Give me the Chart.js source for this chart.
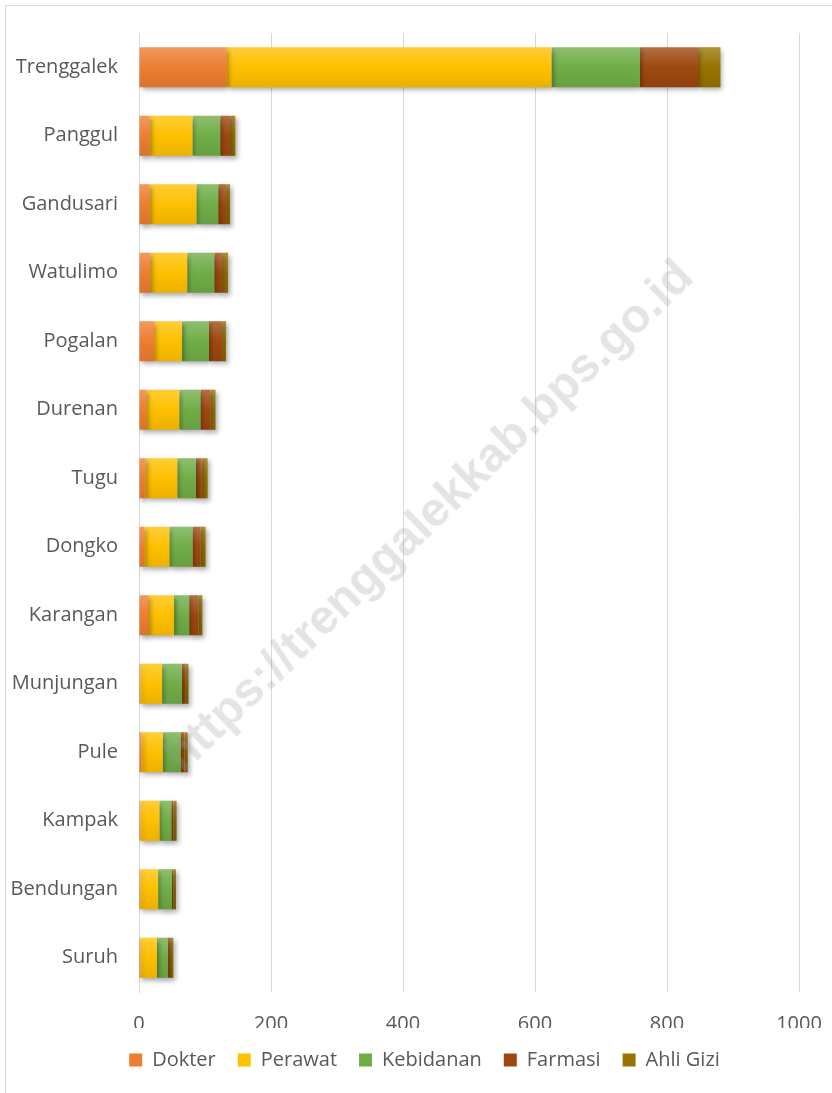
<!DOCTYPE html>
<html><head><meta charset="utf-8">
<script src="https://cdn.jsdelivr.net/npm/chart.js@4/dist/chart.umd.min.js"></script>
<style>
html,body{margin:0;padding:0;background:#fff;}
#wrap{position:relative;width:832px;height:1093px;overflow:hidden;background:#fff;}
#frame{position:absolute;left:5px;top:5px;width:840px;height:1100px;border:1px solid #d9d9d9;box-sizing:border-box;}
canvas{position:absolute;left:0;top:0;}
#wm{position:absolute;left:428px;top:515px;transform:translate(-50%,-50%) rotate(-44deg);font:bold 48px "Liberation Sans",Arial,sans-serif;color:rgba(150,150,150,0.26);white-space:nowrap;pointer-events:none;}
</style></head>
<body><div id="wrap"><div id="frame"></div><canvas id="c" width="832" height="1093"></canvas><div id="wm">https://trenggalekkab.bps.go.id</div></div>
<script>
const categories = ["Trenggalek","Panggul","Gandusari","Watulimo","Pogalan","Durenan","Tugu","Dongko","Karangan","Munjungan","Pule","Kampak","Bendungan","Suruh"];
const dokter    = [133, 16, 16, 17, 23, 11, 10,  8, 14,  2,  4,  2,  2,  2];
const perawat   = [492, 65, 71, 56, 42, 50, 48, 38, 39, 33, 32, 29, 27, 25];
const kebidanan = [134, 42, 33, 41, 41, 32, 28, 35, 23, 30, 27, 18, 21, 17];
const farmasi   = [ 88, 15, 12, 12, 20, 15,  9, 12, 14,  5,  6,  3,  2,  3];
const ahliGizi  = [ 34,  8,  6,  9,  6,  8,  9,  8,  6,  5,  5,  5,  4,  5];
const xTicks = [0, 200, 400, 600, 800, 1000];

const seriesNames = ["Dokter","Perawat","Kebidanan","Farmasi","Ahli Gizi"];
const seriesColors = ["#ED7D31","#FFC000","#70AD47","#9E480E","#997300"];
const seriesData = [dokter, perawat, kebidanan, farmasi, ahliGizi];

function mix(hex, t, target){
  const n = parseInt(hex.slice(1),16);
  let r=(n>>16)&255,g=(n>>8)&255,b=n&255;
  r=Math.round(r+(target-r)*t); g=Math.round(g+(target-g)*t); b=Math.round(b+(target-b)*t);
  return `rgb(${r},${g},${b})`;
}
const BAR_H = 40;
function gradFor(color){
  return function(ctx){
    const chart = ctx.chart;
    const ys = chart.scales && chart.scales.y;
    if (!ys || ctx.dataIndex === undefined) return color;
    const cy = ys.getPixelForValue(ctx.dataIndex);
    if (!isFinite(cy)) return color;
    const g = chart.ctx.createLinearGradient(0, cy - BAR_H/2, 0, cy + BAR_H/2);
    g.addColorStop(0, mix(color, 0.22, 255));
    g.addColorStop(0.5, color);
    g.addColorStop(1, mix(color, 0.08, 0));
    return g;
  };
}

const shadowPlugin = {
  id: 'shadow',
  beforeDatasetsDraw(chart){
    const c = chart.ctx; c.save();
    c.shadowColor = 'rgba(0,0,0,0.35)'; c.shadowBlur = 5; c.shadowOffsetX = 2; c.shadowOffsetY = 3;
  },
  afterDatasetsDraw(chart){ chart.ctx.restore(); }
};
const LEGEND_SHIFT = 25;
const legendFitPlugin = {
  id: 'legendFit',
  afterInit(chart){
    const lg = chart.legend;
    if (!lg) return;
    const origFit = lg.fit.bind(lg);
    lg.fit = function(){ origFit(); this.height = 60; };
    const origDraw = lg.draw.bind(lg);
    lg.draw = function(){
      this.left += LEGEND_SHIFT; this.right += LEGEND_SHIFT;
      origDraw();
      this.left -= LEGEND_SHIFT; this.right -= LEGEND_SHIFT;
    };
  }
};

const FONT = {family: '"Open Sans", sans-serif', size: 20};

new Chart(document.getElementById('c'), {
  type: 'bar',
  data: {
    labels: categories,
    datasets: seriesNames.map((name, i) => ({
      label: name,
      data: seriesData[i],
      backgroundColor: gradFor(seriesColors[i]),
      borderWidth: 0,
      barPercentage: 0.585,
      categoryPercentage: 1.0
    }))
  },
  options: {
    indexAxis: 'y',
    responsive: false,
    animation: false,
    devicePixelRatio: 1,
    layout: {padding: {top: 32, right: 33, left: 0, bottom: 5}},
    plugins: {
      tooltip: {enabled: false},
      legend: {
        position: 'bottom',
        labels: {
          font: FONT, color: '#595959', boxWidth: 13, boxHeight: 13, padding: 22,
          generateLabels(chart){
            return seriesNames.map((n, i) => ({text: n, fillStyle: seriesColors[i], strokeStyle: seriesColors[i], lineWidth: 0, datasetIndex: i, fontColor: '#595959'}));
          }
        }
      }
    },
    scales: {
      x: {
        stacked: true, min: 0, max: 1000,
        afterBuildTicks(s){ s.ticks = xTicks.map(v => ({value: v})); },
        afterFit(s){ s.height = 36; s.paddingLeft = 0; s.paddingRight = 0; },
        ticks: {font: FONT, color: '#595959', padding: 20, callback: v => String(v)},
        grid: {color: '#d9d9d9', drawTicks: false},
        border: {display: false}
      },
      y: {
        stacked: true,
        afterFit(s){ s.width = 139; },
        ticks: {font: FONT, color: '#595959', padding: 21},
        grid: {display: false, drawTicks: false},
        border: {display: true, color: '#d9d9d9'}
      }
    }
  },
  plugins: [shadowPlugin, legendFitPlugin]
});
</script>
</body></html>
